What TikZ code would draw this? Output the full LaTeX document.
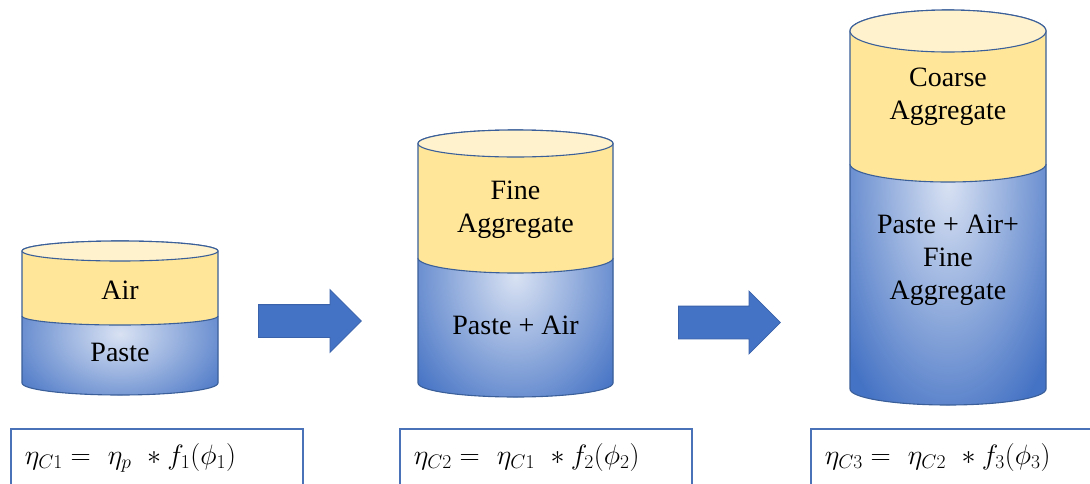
\RequirePackage{fix-cm}
\documentclass[tikz,border=0pt]{standalone}
\usepackage{fontspec}
\setmainfont{Liberation Serif}
\newfontfamily\lblfont{Liberation Serif}
\usetikzlibrary{shapes.arrows}
\definecolor{ymid}{HTML}{FFE699}
\definecolor{ylight}{HTML}{FFF2CC}
\definecolor{bdark}{HTML}{4472C4}
\definecolor{blight}{HTML}{D9E2F3}
\definecolor{edgecol}{HTML}{3A5F99}
\definecolor{boxcol}{HTML}{4A72B8}
\definecolor{arrowfill}{HTML}{4472C4}
\definecolor{arrowedge}{HTML}{3A62AA}
% #1 cx, #2 rx, #3 top y, #4 divider y, #5 bottom y, #6 ry top, #7 ry divider, #8 ry bottom, #9 gradient y radius
\newcommand\mycyl[9]{%
  \begin{scope}
    \clip (#1-#2,-#4) -- (#1-#2,-#5) arc[start angle=180,end angle=360,x radius=#2,y radius=#8] -- (#1+#2,-#4) -- cycle;
    \fill[bdark] (#1-#2-5,-#4+5) rectangle (#1+#2+5,-#5-#8-5);
    \shade[inner color=blight, outer color=bdark] (#1,-#4-18) ellipse[x radius={1.35*#2}, y radius=#9];
  \end{scope}
  \draw[cyledge] (#1-#2,-#4) -- (#1-#2,-#5) arc[start angle=180,end angle=360,x radius=#2,y radius=#8] -- (#1+#2,-#4);
  \filldraw[cyledge, fill=ymid] (#1-#2,-#3) -- (#1-#2,-#4) arc[start angle=180,end angle=360,x radius=#2,y radius=#7]
     -- (#1+#2,-#3) arc[start angle=0,end angle=180,x radius=#2,y radius=#6] -- cycle;
  \filldraw[cyledge, fill=ylight] (#1,-#3) ellipse[x radius=#2, y radius=#6];
}
\begin{document}
\begin{tikzpicture}[x=1pt,y=1pt,
  cyledge/.style={draw=edgecol, line width=1.1pt},
  lbl/.style={align=center, inner sep=0pt, font=\lblfont\fontsize{28}{33}\selectfont},
  eqbox/.style={draw=boxcol, line width=1.5pt, anchor=north west, minimum height=58pt,
     inner xsep=14pt, text width=264pt, align=left, font=\fontsize{28}{31}\selectfont},
  blockarrow/.style={single arrow, fill=arrowfill, draw=arrowedge, line width=0.8pt,
     inner xsep=0pt, inner ysep=16pt, single arrow head extend=15pt, anchor=tail}
]
\useasboundingbox (0,0) rectangle (1090,-483);
\fill[white] (0,0) rectangle (1090,-483);

% cylinders
\mycyl{120}{98}{251}{316}{383}{10}{9}{12}{95}
\mycyl{515.5}{97.5}{143.5}{258}{383}{13.5}{15}{14}{165}
\mycyl{948}{98}{31}{164}{389}{21}{18}{16}{270}

% labels
\node[lbl] (air1) at (120,-290) {Air};
\node[lbl] (paste1) at (120,-352) {Paste};
\node[lbl] (fine2) at (515.5,-210) {Fine\\Aggregate};
\node[lbl] (pasteair2) at (515.5,-325) {Paste + Air};
\node[lbl] (coarse3) at (948,-97) {Coarse\\Aggregate};
\node[lbl] (mix3) at (948,-260) {Paste + Air+\\Fine\\Aggregate};

% arrows
\node[blockarrow, minimum height=103pt] (arr1) at (258,-321) {};
\node[blockarrow, minimum height=102pt] (arr2) at (678,-322.5) {};

% equation boxes
\node[eqbox] (eq1) at (10,-428) {$\eta_{C1} =\ \eta_p\ * f_1(\phi_1)$};
\node[eqbox] (eq2) at (399,-428) {$\eta_{C2} =\ \eta_{C1}\ * f_2(\phi_2)$};
\node[eqbox] (eq3) at (810,-428) {$\eta_{C3} =\ \eta_{C2}\ * f_3(\phi_3)$};
\end{tikzpicture}
\end{document}
